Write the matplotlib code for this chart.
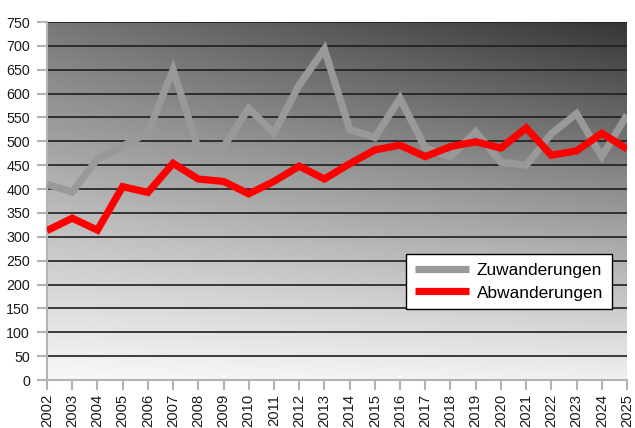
import numpy as np
import matplotlib
matplotlib.use("Agg")
import matplotlib.pyplot as plt

years = [str(y) for y in range(2002, 2026)]
zuwanderungen = [410, 394, 463, 490, 518, 650, 484, 489, 569, 517, 618, 693,
                 525, 508, 590, 486, 467, 520, 456, 450, 516, 558, 468, 555]
abwanderungen = [313, 339, 314, 405, 393, 454, 421, 416, 390, 416, 448, 421,
                 453, 482, 492, 468, 489, 499, 486, 528, 471, 480, 517, 484]
yticks = list(range(0, 751, 50))

plt.rcParams['font.family'] = ['Liberation Sans', 'DejaVu Sans']

fig = plt.figure(figsize=(6.35, 4.28), dpi=100)
ax = fig.add_axes([47/635, 48/428, 580/635, 358/428])

x = np.arange(len(years))
ax.set_xlim(0, len(years) - 1)
ax.set_ylim(0, 750)

# gradient background (bilinear in axes coords)
n = 200
u = np.linspace(0, 1, n)
v = np.linspace(0, 1, n)
U, V = np.meshgrid(u, v)
bl, br, tl, tr = 0xf8, 0xf0, 0x77, 0x36
G = (bl * (1 - U) * (1 - V) + br * U * (1 - V) + tl * (1 - U) * V + tr * U * V) / 255.0
ax.imshow(G, cmap='gray', vmin=0, vmax=1, origin='lower', aspect='auto',
          extent=[0, 1, 0, 1], transform=ax.transAxes, zorder=0, interpolation='bilinear')

for yv in yticks[1:]:
    ax.axhline(yv, color='#1e1e1e', lw=1.2, zorder=1)

ax.plot(x, zuwanderungen, color='#999999', lw=5.2, label='Zuwanderungen',
        solid_joinstyle='miter', solid_capstyle='butt', zorder=3)
ax.plot(x, abwanderungen, color='#ff0000', lw=5.2, label='Abwanderungen',
        solid_joinstyle='miter', solid_capstyle='butt', zorder=4)

for s in ['top', 'right']:
    ax.spines[s].set_visible(False)
ax.spines['left'].set_color('#b3b3b3')
ax.spines['bottom'].set_color('#b3b3b3')
ax.spines['left'].set_linewidth(1.5)
ax.spines['bottom'].set_linewidth(1.5)

ax.set_yticks(yticks)
ax.set_yticklabels([str(t) for t in yticks])
ax.set_xticks(x)
ax.set_xticklabels(years, rotation=90)
ax.tick_params(axis='both', direction='out', length=7.2, width=1.5, color='#b3b3b3',
               labelcolor='#1a1a1a')
ax.tick_params(axis='y', labelsize=10.3, pad=5)
ax.tick_params(axis='x', labelsize=10.6, pad=3)

leg = ax.legend(loc='lower right', bbox_to_anchor=(0.9736, 0.198), borderaxespad=0,
                fontsize=12.4, frameon=True, fancybox=False, framealpha=1,
                edgecolor='#000000', handlelength=3.15, handletextpad=0.45,
                labelspacing=0.45, borderpad=0.5)
leg.get_frame().set_linewidth(1.0)
leg.set_zorder(10)

fig.savefig('out.png', dpi=100)
